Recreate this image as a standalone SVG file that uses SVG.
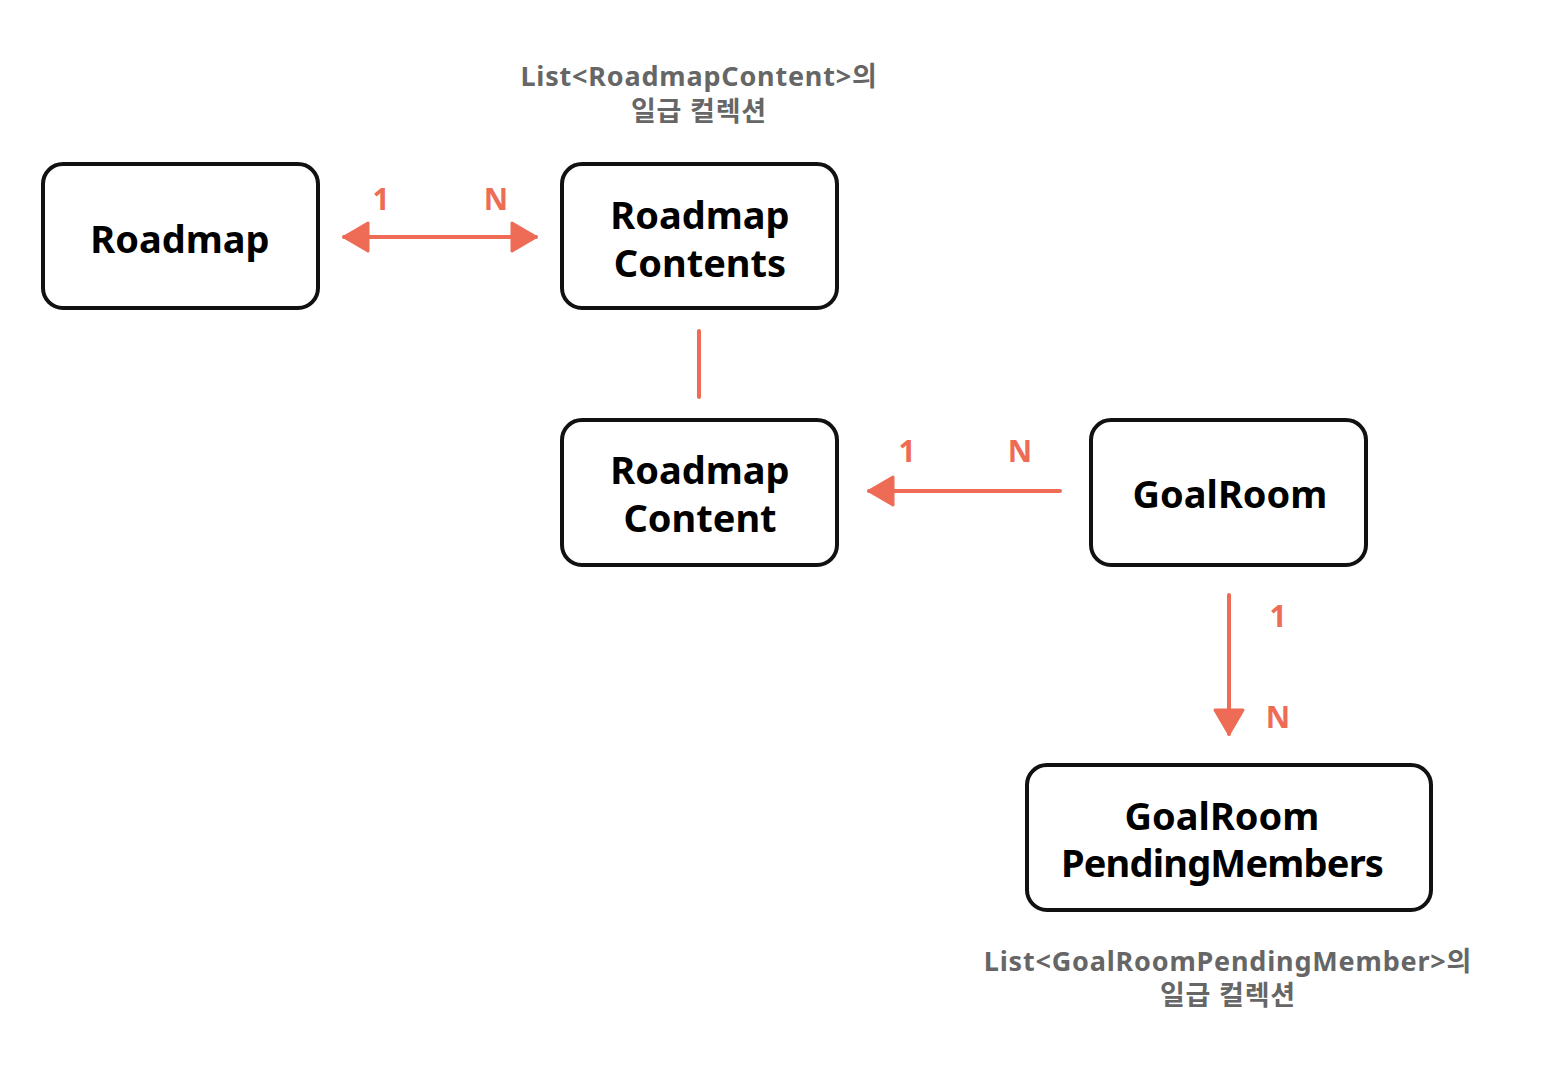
<svg xmlns="http://www.w3.org/2000/svg" width="1562" height="1074" viewBox="0 0 1562 1074">
<style>
.box{fill:#fff;stroke:#111;stroke-width:4}
.t{font-family:"Noto Sans","Noto Sans CJK KR",sans-serif;font-weight:700;font-size:38px;fill:#000;text-anchor:middle}
.lbl{font-family:"Noto Sans","Noto Sans CJK KR",sans-serif;font-weight:700;font-size:27px;letter-spacing:0.8px;fill:#666;text-anchor:middle}
.card{font-family:"Noto Sans",sans-serif;font-weight:700;font-size:30px;fill:#ee6b55;text-anchor:middle}
.c{stroke:#ee6b55;stroke-width:4;fill:none;stroke-linecap:round}
</style>
<defs>
<marker id="ah" markerUnits="userSpaceOnUse" markerWidth="30" markerHeight="32" refX="26" refY="16" orient="auto-start-reverse" viewBox="0 0 30 32">
<path d="M2,2 L26,16 L2,30 Z" fill="#ee6b55" stroke="#ee6b55" stroke-width="3" stroke-linejoin="round"/>
</marker>
</defs>
<rect width="1562" height="1074" fill="#fff"/>
<g id="connectors">
<line class="c" x1="344" y1="237" x2="536" y2="237" marker-start="url(#ah)" marker-end="url(#ah)"/>
<line class="c" x1="699" y1="331" x2="699" y2="397"/>
<line class="c" x1="1060" y1="491" x2="869" y2="491" marker-end="url(#ah)"/>
<line class="c" x1="1229" y1="595" x2="1229" y2="734" marker-end="url(#ah)"/>
<text class="card" x="381" y="210">1</text>
<text class="card" x="496" y="210">N</text>
<text class="card" x="907" y="462">1</text>
<text class="card" x="1020" y="462">N</text>
<text class="card" x="1278" y="627">1</text>
<text class="card" x="1278" y="728">N</text>
</g>
<g id="roadmap">
<rect class="box" x="43" y="164" width="275" height="144" rx="20"/>
<text class="t" x="180" y="253">Roadmap</text>
</g>
<g id="roadmap-contents">
<rect class="box" x="562" y="164" width="275" height="144" rx="20"/>
<text class="t" x="700" y="229">Roadmap</text>
<text class="t" x="700" y="277">Contents</text>
</g>
<g id="roadmap-contents-note">
<text class="lbl" x="699" y="86">List&lt;RoadmapContent&gt;의</text>
<text class="lbl" x="699" y="121">일급 컬렉션</text>
</g>
<g id="roadmap-content">
<rect class="box" x="562" y="420" width="275" height="145" rx="20"/>
<text class="t" x="700" y="484">Roadmap</text>
<text class="t" x="700" y="532">Content</text>
</g>
<g id="goalroom">
<rect class="box" x="1091" y="420" width="275" height="145" rx="20"/>
<text class="t" x="1230" y="508">GoalRoom</text>
</g>
<g id="goalroom-pending-members">
<rect class="box" x="1027" y="765" width="404" height="145" rx="20"/>
<text class="t" x="1222" y="830">GoalRoom</text>
<text class="t" x="1222" y="877" letter-spacing="-0.8">PendingMembers</text>
</g>
<g id="pending-members-note">
<text class="lbl" x="1228" y="971">List&lt;GoalRoomPendingMember&gt;의</text>
<text class="lbl" x="1228" y="1005">일급 컬렉션</text>
</g>
</svg>
